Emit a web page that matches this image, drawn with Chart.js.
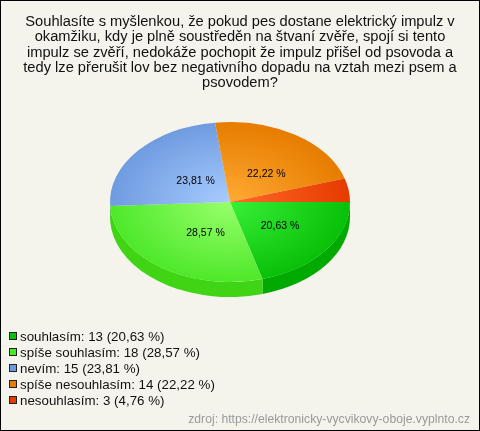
<!DOCTYPE html>
<html>
<head>
<meta charset="utf-8">
<title>Souhlasíte s myšlenkou</title>
<script src="https://cdn.jsdelivr.net/npm/chart.js@4"></script>
<style>
    html, body { margin: 0; padding: 0; background: #f5f4ec; }
    canvas { display: block; }
</style>
</head>
<body>
<canvas id="graf" width="480" height="431"></canvas>
<script>
// --- Data ---
const titleLines = [
    'Souhlasíte s myšlenkou, že pokud pes dostane elektrický impulz v',
    'okamžiku, kdy je plně soustředěn na štvaní zvěře, spojí si tento',
    'impulz se zvěří, nedokáže pochopit že impulz přišel od psovoda a',
    'tedy lze přerušit lov bez negativního dopadu na vztah mezi psem a',
    'psovodem?'
];
const categories = ['souhlasím', 'spíše souhlasím', 'nevím', 'spíše nesouhlasím', 'nesouhlasím'];
const values = [13, 18, 15, 14, 3];
const percents = ['20,63', '28,57', '23,81', '22,22', '4,76'];
const sliceLabels = ['20,63 %', '28,57 %', '23,81 %', '22,22 %', ''];
const sourceText = 'zdroj: https://elektronicky-vycvikovy-oboje.vyplnto.cz';

// --- Barvy ---
const colorsInner = ['#38f038', '#98ff6c', '#a8ccff', '#ffaa33', '#ff6a28'];
const colorsOuter = ['#08c008', '#4ee82a', '#6f9be0', '#e67c00', '#e63a00'];
const colorsWall = ['#00aa00', '#3fd414', '#5a80c0', '#c06800', '#c03000'];
const colorsLegend = ['#0cc00c', '#48e828', '#6f9be0', '#e67c00', '#e63c00'];

const FONT = '"Liberation Sans", Arial, sans-serif';
const SQUASH = 2 / 3;  // pomer os elipsy
const DEPTH = 15;      // vyska boku kolace

function sliceGradient(context) {
    const area = context.chart.chartArea;
    if (!area) return colorsOuter[context.dataIndex];
    const x = (area.left + area.right) / 2;
    const y = (area.top + area.bottom) / 2;
    const g = context.chart.ctx.createRadialGradient(x, y, 0, x, y, 120);
    g.addColorStop(0, colorsInner[context.dataIndex]);
    g.addColorStop(1, colorsOuter[context.dataIndex]);
    return g;
}

// pozadi a ramecek, titulek na stred cele plochy
const framePlugin = {
    id: 'frame',
    afterLayout(chart) {
        chart.titleBlock.left = 0;
        chart.titleBlock.right = chart.width;
    },
    beforeDraw(chart) {
        const ctx = chart.ctx;
        ctx.save();
        ctx.fillStyle = '#f5f4ec';
        ctx.fillRect(0, 0, chart.width, chart.height);
        ctx.strokeStyle = '#000';
        ctx.lineWidth = 1;
        ctx.strokeRect(0.5, 0.5, chart.width - 1, chart.height - 1);
        ctx.restore();
    }
};

// 3D efekt: bok kolace a zplosteni na elipsu
const tiltPlugin = {
    id: 'tilt',
    beforeDatasetsDraw(chart) {
        const ctx = chart.ctx;
        const arcs = chart.getDatasetMeta(0).data;
        const cx = arcs[0].x, cy = arcs[0].y;
        const rx = arcs[0].outerRadius, ry = rx * SQUASH;
        ctx.save();
        arcs.forEach((arc, i) => {
            const a = Math.max(arc.startAngle, 0);
            const b = Math.min(arc.endAngle, Math.PI);
            if (b <= a) return;
            ctx.beginPath();
            ctx.ellipse(cx, cy, rx, ry, 0, a, b);
            ctx.ellipse(cx, cy + DEPTH, rx, ry, 0, b, a, true);
            ctx.closePath();
            ctx.fillStyle = colorsWall[i];
            ctx.fill();
        });
        ctx.restore();
        ctx.save();
        ctx.translate(cx, cy);
        ctx.scale(1, SQUASH);
        ctx.translate(-cx, -cy);
    },
    afterDatasetsDraw(chart) {
        const ctx = chart.ctx;
        ctx.restore();
        // popisky vysecí
        const arcs = chart.getDatasetMeta(0).data;
        ctx.save();
        ctx.font = '10.5px ' + FONT;
        ctx.fillStyle = '#000';
        ctx.textAlign = 'center';
        ctx.textBaseline = 'middle';
        arcs.forEach((arc, i) => {
            const mid = (arc.startAngle + arc.endAngle) / 2;
            const r = arc.outerRadius * 0.45;
            ctx.fillText(sliceLabels[i], arc.x + r * Math.cos(mid) + 7, arc.y + r * SQUASH * Math.sin(mid) + 2);
        });
        ctx.restore();
    }
};

// legenda vlevo dole a zdroj
const legendPlugin = {
    id: 'legendList',
    afterDraw(chart) {
        const ctx = chart.ctx;
        ctx.save();
        ctx.font = '13.33px ' + FONT;
        ctx.textBaseline = 'middle';
        categories.forEach((name, i) => {
            const y = 336 + i * 16;
            ctx.fillStyle = colorsLegend[i];
            ctx.fillRect(9.5, y - 3.5, 7, 7);
            ctx.strokeStyle = '#222';
            ctx.lineWidth = 1;
            ctx.strokeRect(9.5, y - 3.5, 7, 7);
            ctx.fillStyle = '#111';
            ctx.fillText(name + ': ' + values[i] + ' (' + percents[i] + ' %)', 20, y + 1);
        });
        ctx.font = '12.2px ' + FONT;
        ctx.fillStyle = '#999';
        ctx.textAlign = 'right';
        ctx.fillText(sourceText, 470, 420);
        ctx.restore();
    }
};

new Chart(document.getElementById('graf').getContext('2d'), {
    type: 'pie',
    data: {
        labels: categories,
        datasets: [{
            data: values,
            backgroundColor: sliceGradient,
            borderWidth: 0,
            clip: false
        }]
    },
    options: {
        responsive: false,
        animation: false,
        rotation: 90,
        radius: 120,
        layout: { padding: { right: 20, bottom: 118 } },
        events: [],
        plugins: {
            legend: { display: false },
            tooltip: { enabled: false },
            title: {
                display: true,
                text: titleLines,
                color: '#111',
                font: { family: FONT, size: 14.67, weight: 'normal', lineHeight: 1.05 },
                padding: { top: 14, bottom: 0 }
            }
        }
    },
    plugins: [framePlugin, tiltPlugin, legendPlugin]
});
</script>
</body>
</html>
